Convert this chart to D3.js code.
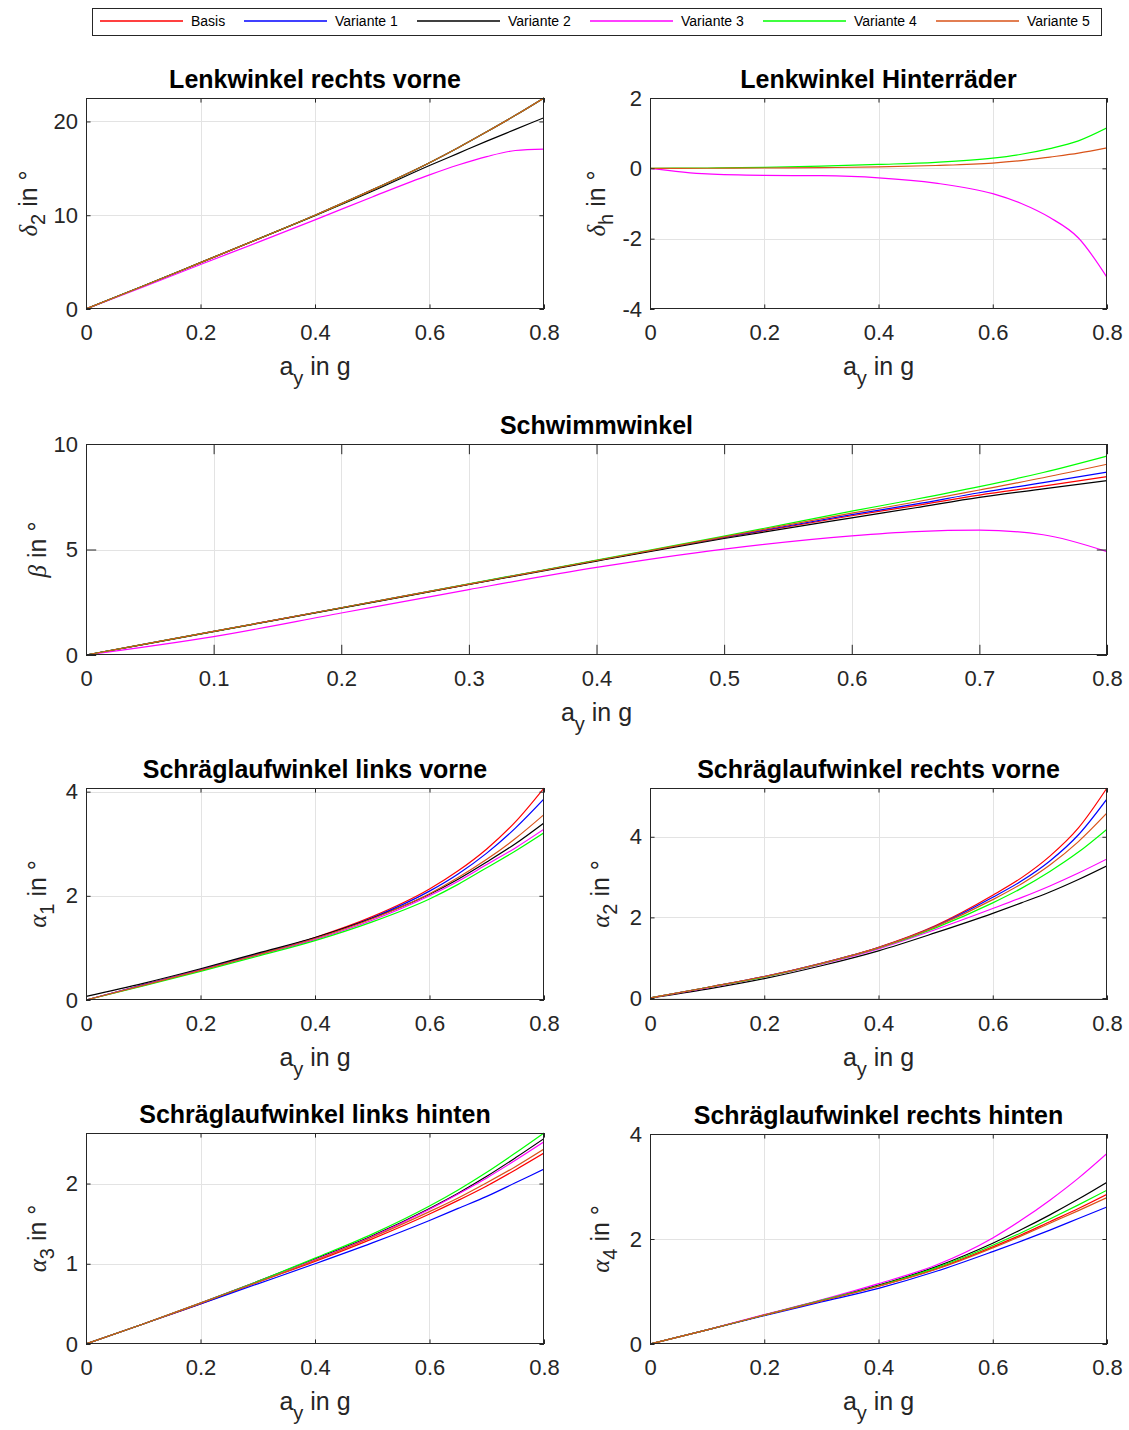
<!DOCTYPE html>
<html>
<head>
<meta charset="utf-8">
<script src="https://cdn.jsdelivr.net/npm/d3@7"></script>
<style>
  body { margin: 0; background: #fff; }
  svg { display: block; font-family: "Liberation Sans", Arial, sans-serif; }
</style>
</head>
<body>
<div id="chart"></div>
<script>
const width = 1129;
const height = 1430;

// shared x values (a_y in g)
const ay = [0, 0.1, 0.2, 0.3, 0.4, 0.5, 0.6, 0.65, 0.7, 0.75, 0.8];

const seriesNames = ["Basis", "Variante 1", "Variante 2", "Variante 3", "Variante 4", "Variante 5"];
const seriesColors = ["#ff0000", "#0000ff", "#000000", "#ff00ff", "#00ff00", "#d95319"];

// each panel: one row per series in the order of seriesNames (null = not plotted)
const delta2 = [
  [0, 2.45, 4.95, 7.45, 10.0, 12.7, 15.6, 17.2, 18.9, 20.65, 22.5],
  [0, 2.45, 4.95, 7.45, 10.0, 12.7, 15.6, 17.2, 18.9, 20.65, 22.5],
  [0, 2.45, 4.95, 7.45, 9.95, 12.55, 15.3, 16.6, 17.9, 19.15, 20.4],
  [0, 2.35, 4.75, 7.1, 9.5, 11.95, 14.3, 15.35, 16.25, 16.9, 17.05],
  [0, 2.45, 4.95, 7.45, 10.0, 12.7, 15.6, 17.2, 18.9, 20.65, 22.5],
  [0, 2.45, 4.95, 7.45, 10.0, 12.7, 15.6, 17.2, 18.9, 20.65, 22.5]
];

const deltaH = [
  null,
  null,
  null,
  [0, -0.16, -0.2, -0.21, -0.27, -0.42, -0.72, -1.0, -1.4, -1.98, -3.1],
  [0, 0.01, 0.03, 0.06, 0.11, 0.17, 0.29, 0.4, 0.56, 0.78, 1.15],
  [0, 0.003, 0.01, 0.02, 0.04, 0.08, 0.15, 0.22, 0.32, 0.43, 0.58]
];

const beta = [
  [0, 1.12, 2.23, 3.35, 4.47, 5.56, 6.6, 7.08, 7.58, 8.0, 8.45],
  [0, 1.12, 2.24, 3.36, 4.48, 5.58, 6.65, 7.15, 7.69, 8.17, 8.67],
  [0, 1.11, 2.22, 3.34, 4.45, 5.52, 6.5, 6.98, 7.47, 7.87, 8.26],
  [0, 0.87, 1.99, 3.1, 4.15, 5.02, 5.65, 5.85, 5.92, 5.7, 4.9],
  [0, 1.12, 2.24, 3.37, 4.5, 5.63, 6.82, 7.38, 7.98, 8.65, 9.43],
  [0, 1.12, 2.24, 3.36, 4.48, 5.6, 6.72, 7.25, 7.82, 8.4, 9.04]
];

const alpha1 = [
  [0, 0.29, 0.58, 0.88, 1.2, 1.6, 2.13, 2.48, 2.9, 3.42, 4.07],
  [0, 0.29, 0.58, 0.88, 1.19, 1.58, 2.09, 2.42, 2.82, 3.3, 3.86],
  [0.07, 0.32, 0.6, 0.9, 1.2, 1.57, 2.03, 2.32, 2.65, 3.0, 3.4],
  [0, 0.28, 0.57, 0.86, 1.16, 1.53, 2.0, 2.28, 2.6, 2.92, 3.28],
  [0, 0.27, 0.55, 0.84, 1.14, 1.5, 1.94, 2.22, 2.54, 2.86, 3.21],
  [0, 0.28, 0.57, 0.87, 1.18, 1.56, 2.04, 2.35, 2.7, 3.1, 3.56]
];

const alpha2 = [
  [0, 0.26, 0.53, 0.86, 1.26, 1.8, 2.55, 2.98, 3.52, 4.22, 5.21],
  [0, 0.26, 0.53, 0.86, 1.25, 1.78, 2.5, 2.9, 3.4, 4.05, 4.94],
  [0, 0.22, 0.48, 0.8, 1.17, 1.62, 2.1, 2.36, 2.63, 2.94, 3.28],
  [0, 0.25, 0.52, 0.84, 1.22, 1.7, 2.22, 2.49, 2.78, 3.1, 3.45],
  [0, 0.26, 0.52, 0.85, 1.24, 1.74, 2.36, 2.72, 3.14, 3.62, 4.19],
  [0, 0.26, 0.53, 0.86, 1.25, 1.77, 2.44, 2.83, 3.3, 3.88, 4.59]
];

const alpha3 = [
  [0, 0.25, 0.5, 0.77, 1.03, 1.31, 1.62, 1.79, 1.97, 2.17, 2.38],
  [0, 0.25, 0.5, 0.75, 1.0, 1.26, 1.54, 1.69, 1.84, 2.01, 2.18],
  [0, 0.25, 0.51, 0.78, 1.06, 1.35, 1.69, 1.88, 2.09, 2.32, 2.56],
  [0, 0.25, 0.51, 0.78, 1.05, 1.34, 1.68, 1.87, 2.07, 2.29, 2.52],
  [0, 0.25, 0.51, 0.78, 1.07, 1.37, 1.72, 1.92, 2.14, 2.38, 2.63],
  [0, 0.25, 0.51, 0.77, 1.04, 1.33, 1.65, 1.82, 2.01, 2.21, 2.43]
];

const alpha4 = [
  [0, 0.27, 0.55, 0.82, 1.1, 1.43, 1.85, 2.08, 2.33, 2.58, 2.85],
  [0, 0.27, 0.54, 0.8, 1.06, 1.38, 1.76, 1.96, 2.17, 2.39, 2.61],
  [0, 0.27, 0.55, 0.83, 1.12, 1.47, 1.92, 2.18, 2.46, 2.76, 3.08],
  [0, 0.27, 0.56, 0.84, 1.15, 1.5, 2.02, 2.36, 2.74, 3.16, 3.63],
  [0, 0.27, 0.55, 0.83, 1.11, 1.45, 1.88, 2.12, 2.38, 2.65, 2.93],
  [0, 0.27, 0.55, 0.82, 1.1, 1.42, 1.83, 2.06, 2.3, 2.54, 2.79]
];

const xTicksShort = [0, 0.2, 0.4, 0.6, 0.8];
const xTicksLong = [0, 0.1, 0.2, 0.3, 0.4, 0.5, 0.6, 0.7, 0.8];

const panels = [
  { title: "Lenkwinkel rechts vorne", sym: "δ", sub: "2", data: delta2,
    yDomain: [0, 22.5], yTicks: [0, 10, 20], xTicks: xTicksShort,
    box: [86, 98, 544, 309], ylabX: 37 },
  { title: "Lenkwinkel Hinterräder", sym: "δ", sub: "h", data: deltaH,
    yDomain: [-4, 2], yTicks: [-4, -2, 0, 2], xTicks: xTicksShort,
    box: [650, 98, 1107, 309], ylabX: 605 },
  { title: "Schwimmwinkel", sym: "β", sub: null, data: beta,
    yDomain: [0, 10], yTicks: [0, 5, 10], xTicks: xTicksLong,
    box: [86, 444, 1107, 655], ylabX: 46 },
  { title: "Schräglaufwinkel links vorne", sym: "α", sub: "1", data: alpha1,
    yDomain: [0, 4.07], yTicks: [0, 2, 4], xTicks: xTicksShort,
    box: [86, 788, 544, 1000], ylabX: 46 },
  { title: "Schräglaufwinkel rechts vorne", sym: "α", sub: "2", data: alpha2,
    yDomain: [-0.05, 5.21], yTicks: [0, 2, 4], xTicks: xTicksShort,
    box: [650, 788, 1107, 1000], ylabX: 609 },
  { title: "Schräglaufwinkel links hinten", sym: "α", sub: "3", data: alpha3,
    yDomain: [0, 2.63], yTicks: [0, 1, 2], xTicks: xTicksShort,
    box: [86, 1133, 544, 1344], ylabX: 46 },
  { title: "Schräglaufwinkel rechts hinten", sym: "α", sub: "4", data: alpha4,
    yDomain: [0, 4], yTicks: [0, 2, 4], xTicks: xTicksShort,
    box: [650, 1134, 1107, 1344], ylabX: 609 }
];

const axisColor = "#262626";
const gridColor = "#e3e3e3";

const svg = d3.select("#chart")
  .append("svg")
  .attr("width", width)
  .attr("height", height);

svg.append("rect").attr("width", width).attr("height", height).attr("fill", "#fff");

function fmtX(d) {
  return d === 0 ? "0" : d.toFixed(1);
}

panels.forEach((p, pi) => {
  const [l, t, r, b] = p.box;
  const w = r - l, h = b - t;
  const x = d3.scaleLinear().domain([0, 0.8]).range([l, r]);
  const y = d3.scaleLinear().domain(p.yDomain).range([b, t]);
  const tickLen = 0.01 * Math.max(w, h);
  const g = svg.append("g");

  // grid
  g.selectAll(".gx").data(p.xTicks.filter(d => d > 0 && d < 0.8)).enter()
    .append("line")
    .attr("x1", d => Math.round(x(d)) + 0.5).attr("x2", d => Math.round(x(d)) + 0.5)
    .attr("y1", t).attr("y2", b)
    .attr("stroke", gridColor).attr("stroke-width", 1);
  g.selectAll(".gy").data(p.yTicks.filter(d => y(d) > t + 1 && y(d) < b - 1)).enter()
    .append("line")
    .attr("y1", d => Math.round(y(d)) + 0.5).attr("y2", d => Math.round(y(d)) + 0.5)
    .attr("x1", l).attr("x2", r)
    .attr("stroke", gridColor).attr("stroke-width", 1);

  // lines
  const clipId = "clip" + pi;
  svg.append("clipPath").attr("id", clipId)
    .append("rect").attr("x", l).attr("y", t - 1).attr("width", w).attr("height", h + 2);

  const line = d3.line()
    .x((d, i) => x(ay[i]))
    .y(d => y(d))
    .curve(d3.curveMonotoneX);

  const rows = p.data.map((vals, i) => ({ vals, color: seriesColors[i] })).filter(s => s.vals);

  g.append("g").attr("clip-path", `url(#${clipId})`)
    .selectAll("path").data(rows).enter()
    .append("path")
    .attr("d", s => line(s.vals))
    .attr("fill", "none")
    .attr("stroke", s => s.color)
    .attr("stroke-width", 1.2);

  // axes with D3 axis generators, inward ticks on all four sides
  const xb = g.append("g").attr("transform", `translate(0,${b})`)
    .call(d3.axisBottom(x).tickValues(p.xTicks).tickSizeInner(-tickLen).tickSizeOuter(0).tickPadding(15).tickFormat(fmtX));
  const xt = g.append("g").attr("transform", `translate(0,${t})`)
    .call(d3.axisTop(x).tickValues(p.xTicks).tickSizeInner(-tickLen).tickSizeOuter(0).tickFormat(""));
  const yl = g.append("g").attr("transform", `translate(${l},0)`)
    .call(d3.axisLeft(y).tickValues(p.yTicks).tickSizeInner(-tickLen).tickSizeOuter(0).tickPadding(8).tickFormat(d3.format("d")));
  const yr = g.append("g").attr("transform", `translate(${r},0)`)
    .call(d3.axisRight(y).tickValues(p.yTicks).tickSizeInner(-tickLen).tickSizeOuter(0).tickFormat(""));

  [xb, xt, yl, yr].forEach(a => {
    a.select(".domain").remove();
    a.selectAll("line").attr("stroke", axisColor);
    a.selectAll("text").attr("fill", axisColor).attr("font-size", 22)
      .attr("font-family", "Liberation Sans, Arial, sans-serif");
  });
  xb.selectAll("text").attr("dy", "0.71em");
  yl.selectAll("text").text(d => d < 0 ? "-" + Math.abs(d) : d);

  g.append("rect")
    .attr("x", l + 0.5).attr("y", t + 0.5)
    .attr("width", w - 1).attr("height", h - 1)
    .attr("fill", "none").attr("stroke", axisColor).attr("stroke-width", 1);

  // title
  g.append("text")
    .attr("x", (l + r) / 2).attr("y", t - 10)
    .attr("text-anchor", "middle")
    .attr("font-size", 25).attr("font-weight", "bold").attr("fill", "#000")
    .text(p.title);

  // x label
  const xl = g.append("text")
    .attr("x", (l + r) / 2).attr("y", b + 66)
    .attr("text-anchor", "middle")
    .attr("font-size", 25).attr("fill", axisColor);
  xl.append("tspan").text("a");
  xl.append("tspan").attr("dy", 10).attr("font-size", 20).text("y");
  xl.append("tspan").attr("dy", -10).text(" in g");

  // y label
  const ylab = g.append("text")
    .attr("transform", `translate(${p.ylabX},${(t + b) / 2}) rotate(-90)`)
    .attr("text-anchor", "middle")
    .attr("font-size", 25).attr("fill", axisColor);
  ylab.append("tspan").attr("font-family", "Liberation Serif, DejaVu Serif, serif")
    .attr("font-style", "italic").text(p.sym);
  if (p.sub) {
    ylab.append("tspan").attr("dy", 8).attr("font-size", 20).text(p.sub);
    ylab.append("tspan").attr("dy", -8).text(" in °");
  } else {
    ylab.append("tspan").text(" in °");
  }
});

// legend
const legend = svg.append("g");
legend.append("rect")
  .attr("x", 92.5).attr("y", 8.5).attr("width", 1009).attr("height", 27)
  .attr("fill", "#fff").attr("stroke", axisColor).attr("stroke-width", 1);

const legendStart = (i) => i === 0 ? 100 : 244 + (i - 1) * 173;
const items = legend.selectAll(".item").data(seriesNames).enter()
  .append("g")
  .attr("transform", (d, i) => `translate(${legendStart(i)},0)`);
items.append("line")
  .attr("x1", 0).attr("x2", 83).attr("y1", 21).attr("y2", 21)
  .attr("stroke", d => seriesColors[seriesNames.indexOf(d)]).attr("stroke-width", 1.4);
items.append("text")
  .attr("x", 91).attr("y", 26)
  .attr("font-size", 14).attr("fill", "#000")
  .text(d => d);
</script>
</body>
</html>
